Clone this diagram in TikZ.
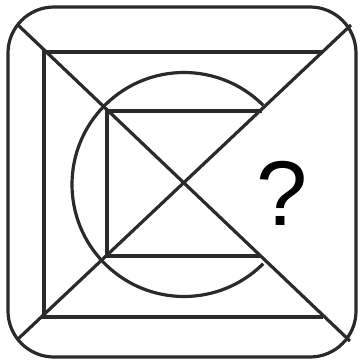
\documentclass[tikz,border=0pt]{standalone}
\usepackage{fontspec}
\setmainfont{Liberation Sans}
\definecolor{ink}{HTML}{2A2A2A}
\begin{document}
\begin{tikzpicture}[x=1pt,y=-1pt,
  stroke/.style={draw=ink,line width=3.2pt,line join=miter}]
\useasboundingbox (0,0) rectangle (362,364);
% outer rounded frame
\coordinate (fTL) at (8,7);
\coordinate (fBR) at (356,357);
\draw[stroke,rounded corners=46pt] (fTL) rectangle (fBR);
% diagonals
\coordinate (a) at (18,25);
\coordinate (b) at (350,341);
\coordinate (c) at (351,25);
\coordinate (d) at (18,339);
\draw[stroke] (a) -- (b);
\draw[stroke] (c) -- (d);
% big open square
\coordinate (s1) at (322,52);
\coordinate (s2) at (44,52);
\coordinate (s3) at (44,317);
\coordinate (s4) at (323,317);
\draw[stroke] (s1) -- (s2) -- (s3) -- (s4);
% inner open square
\coordinate (i1) at (262,111);
\coordinate (i2) at (107,111);
\coordinate (i3) at (107,256);
\coordinate (i4) at (261,256);
\draw[stroke] (i1) -- (i2) -- (i3) -- (i4);
% circle arc
\coordinate (o) at (184,184.5);
\draw[stroke] ([shift={(79.2,-79.2)}]o) arc[start angle=-45,end angle=-315,radius=112];
% question mark
\node[inner sep=0pt,text=black,font=\fontsize{92}{92}\selectfont] (q) at (282,193.5) {?};
\end{tikzpicture}
\end{document}
